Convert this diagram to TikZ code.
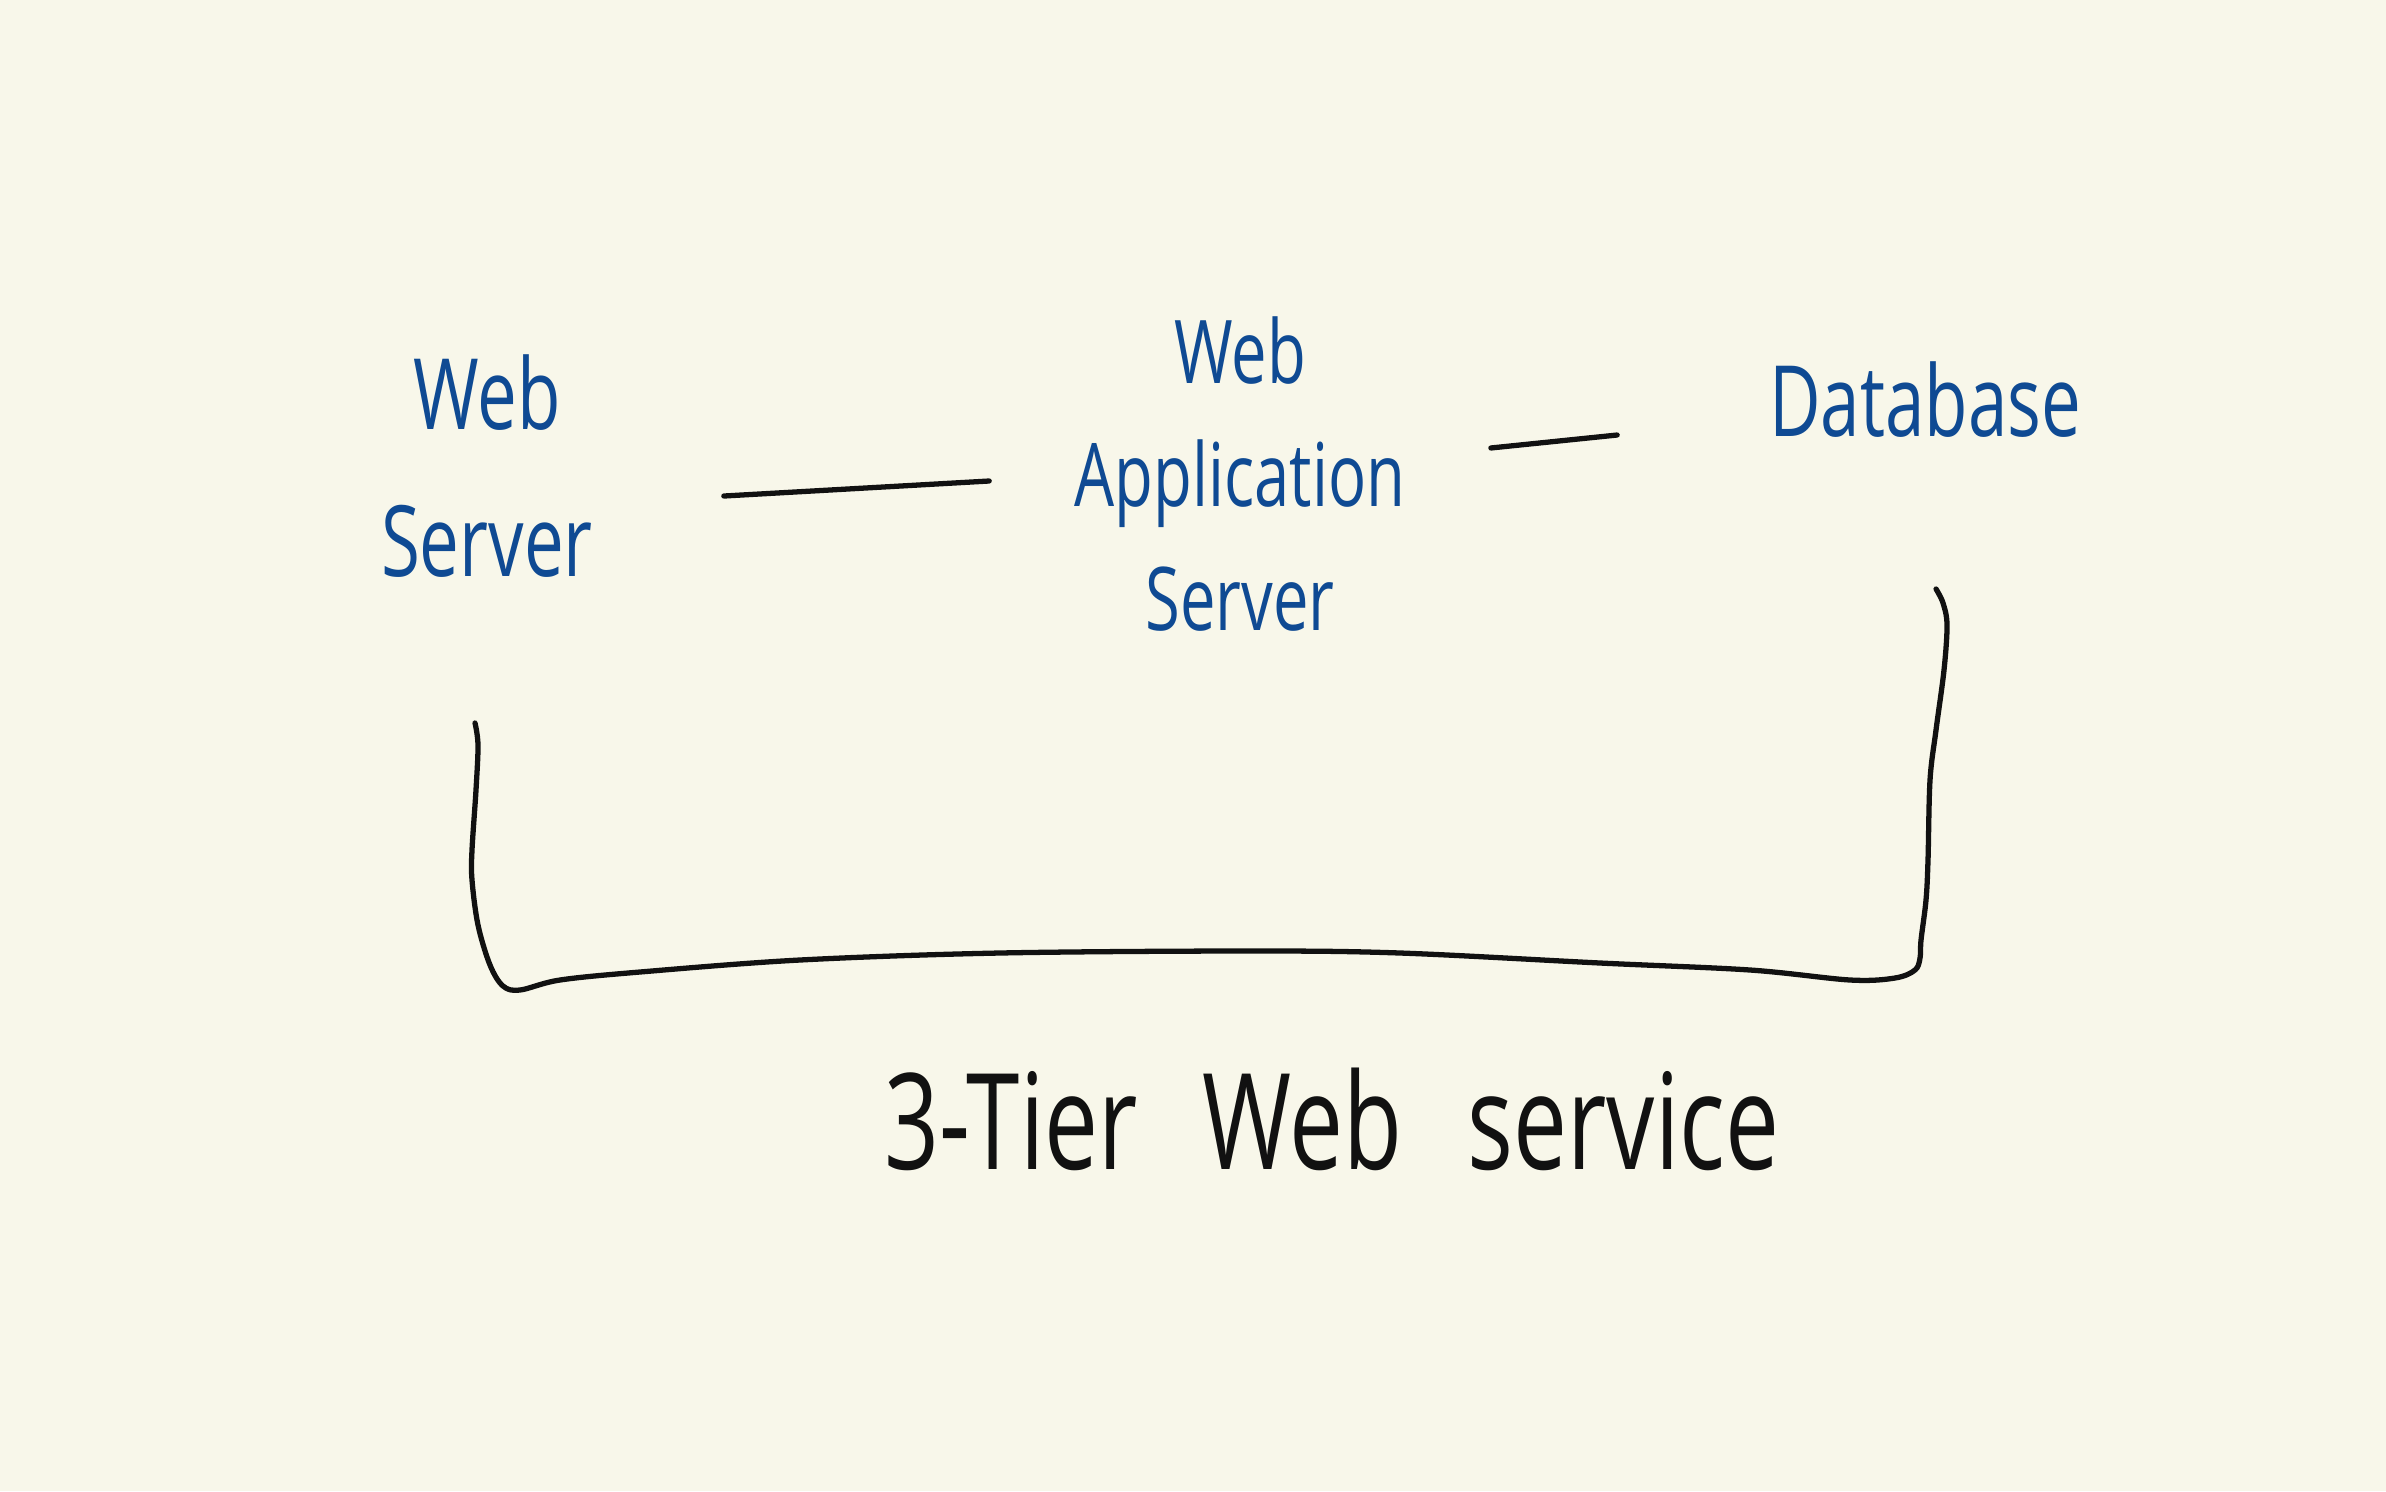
\documentclass[tikz,border=0pt]{standalone}
\usepackage{fontspec}
\usetikzlibrary{positioning,calc}
\newfontfamily\handfont[FakeStretch=0.72]{Open Sans}
\newfontfamily\capfont[FakeStretch=0.72, WordSpace=2.6]{Open Sans}
\definecolor{sketchpaper}{HTML}{F8F7EA}
\definecolor{sketchink}{HTML}{0F4A93}
\definecolor{sketchpen}{HTML}{111111}

\begin{document}
\begin{tikzpicture}[x=0.01cm, y=-0.01cm,
  tier/.style={text=sketchink, align=center, inner sep=0pt, font=\handfont\fontsize{28}{42}\selectfont},
  ttl/.style={text=sketchpen, inner sep=0pt, font=\capfont\fontsize{38}{46}\selectfont},
  link/.style={sketchpen, line width=1.5pt, line cap=round},
  brace/.style={sketchpen, line width=1.5pt, line cap=round, line join=round}]
  % ---- paper ----
  \fill[sketchpaper] (0,0) rectangle (2386,1491);
  \useasboundingbox (0,0) rectangle (2386,1491);
  % ---- tiers ----
  \node[tier, minimum width=4.72cm] (ws) at (487,466) {Web\\Server};
  \node[tier, minimum width=5cm, font=\handfont\fontsize{25}{35}\selectfont] (was) at (1240,474) {Web\\Application\\Server};
  \node[tier, minimum width=6.14cm] (db) at (1925,400) {Database};
  \draw[link] ([yshift=-0.30cm]ws.east) -- ([yshift=-0.07cm]was.west);
  \draw[link] ([yshift=0.26cm]was.east) -- ([yshift=-0.35cm]db.west);
  % ---- brace under the three tiers ----
  \draw[brace] plot[smooth, tension=0.55] coordinates {(475,723) (478,745) (476,790) (472,850) (472,880) (478,925) (490,965) (503,986) (520,990) (560,980) (640,972) (800,960) (1000,953) (1250,951) (1400,953) (1600,963) (1750,970) (1850,980) (1895,978) (1915,970) (1920,958) (1921,940) (1926,900) (1928,860) (1930,780) (1936,730) (1944,670) (1947,625) (1943,603) (1936,589)};
  \node[ttl, anchor=base] (cap) at (1332,1169) {3-Tier Web service};
\end{tikzpicture}
\end{document}
